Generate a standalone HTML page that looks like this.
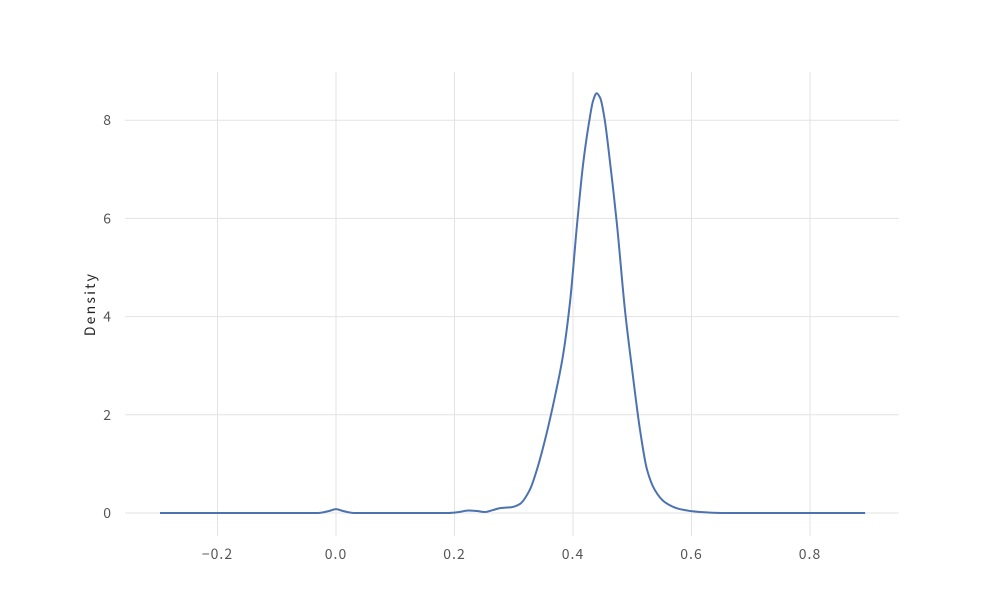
<!DOCTYPE html>
<html><head><meta charset="utf-8"><style>
body{margin:0;background:#fff}
svg text{font-family:"WenQuanYi Zen Hei Mono","WenQuanYi Zen Hei","Noto Sans CJK SC",monospace;font-size:14px;fill:#555;letter-spacing:1px}
</style></head><body>
<svg width="1000" height="600" xmlns="http://www.w3.org/2000/svg">
<g id="grid"></g>
<g id="ticks"></g>
<text x="95" y="304" transform="rotate(-90 95 304)" text-anchor="middle" style="fill:#222;letter-spacing:2.2px">Density</text>
<path id="line" fill="none" stroke="#4c72b0" stroke-width="2" stroke-linejoin="round"></path>
</svg>
<script>
const xTicks=[-0.2,0,0.2,0.4,0.6,0.8];
const xTickLabels=["−0.2","0.0","0.2","0.4","0.6","0.8"];
const yTicks=[0,2,4,6,8];
const yTickLabels=["0","2","4","6","8"];
const xs=[-0.297,-0.03,-0.012,0,0.012,0.03,0.19,0.208,0.223,0.238,0.251,0.265,0.277,0.297,0.31,0.327,0.339,0.353,0.37,0.383,0.395,0.407,0.417,0.427,0.434,0.44,0.446,0.453,0.461,0.474,0.488,0.5,0.513,0.525,0.538,0.555,0.58,0.614,0.65,0.893];
const ys=[0,0,0.04,0.08,0.04,0,0,0.02,0.05,0.04,0.02,0.06,0.1,0.12,0.18,0.47,0.88,1.5,2.4,3.2,4.3,5.9,7.1,7.95,8.4,8.55,8.45,8.05,7.3,5.9,4.1,2.9,1.7,0.88,0.47,0.22,0.08,0.02,0,0];
const X=v=>336+v*592.5, Y=v=>513-v*49.1;
const ns="http://www.w3.org/2000/svg";
const g=document.getElementById('grid'), t=document.getElementById('ticks');
xTicks.forEach((v,i)=>{
 const l=document.createElementNS(ns,'line');
 
 
 l.setAttribute('x1',X(v));l.setAttribute('x2',X(v));l.setAttribute('y1',72);l.setAttribute('y2',536);
 l.setAttribute('stroke','#e3e3e3');g.appendChild(l);
 const tx=document.createElementNS(ns,'text');
 
 
 tx.setAttribute('x',X(v));tx.setAttribute('y',559);tx.setAttribute('text-anchor','middle');
 tx.textContent=xTickLabels[i];t.appendChild(tx);
});
yTicks.forEach((v,i)=>{
 const l=document.createElementNS(ns,'line');
 
 
 l.setAttribute('x1',125);l.setAttribute('x2',899);l.setAttribute('y1',Y(v));l.setAttribute('y2',Y(v));
 l.setAttribute('stroke','#e3e3e3');g.appendChild(l);
 const tx=document.createElementNS(ns,'text');
 
 
 tx.setAttribute('x',112);tx.setAttribute('y',Y(v)+5);tx.setAttribute('text-anchor','end');
 tx.textContent=yTickLabels[i];t.appendChild(tx);
});
// monotone cubic interpolation (Fritsch-Carlson)
const n=xs.length, dx=[], sl=[], m=new Array(n);
for(let i=0;i<n-1;i++){dx[i]=xs[i+1]-xs[i];sl[i]=(ys[i+1]-ys[i])/dx[i];}
m[0]=sl[0];m[n-1]=sl[n-2];
for(let i=1;i<n-1;i++){
 if(sl[i-1]*sl[i]<=0)m[i]=0;
 else{const w1=2*dx[i]+dx[i-1],w2=dx[i]+2*dx[i-1];m[i]=(w1+w2)/(w1/sl[i-1]+w2/sl[i]);}
}
let d='M'+X(xs[0])+','+Y(ys[0]);
for(let i=0;i<n-1;i++){
 const h=dx[i];
 d+=` C${X(xs[i]+h/3)},${Y(ys[i]+m[i]*h/3)} ${X(xs[i+1]-h/3)},${Y(ys[i+1]-m[i+1]*h/3)} ${X(xs[i+1])},${Y(ys[i+1])}`;
}
document.getElementById('line').setAttribute('d',d);
</script>
</body></html>
